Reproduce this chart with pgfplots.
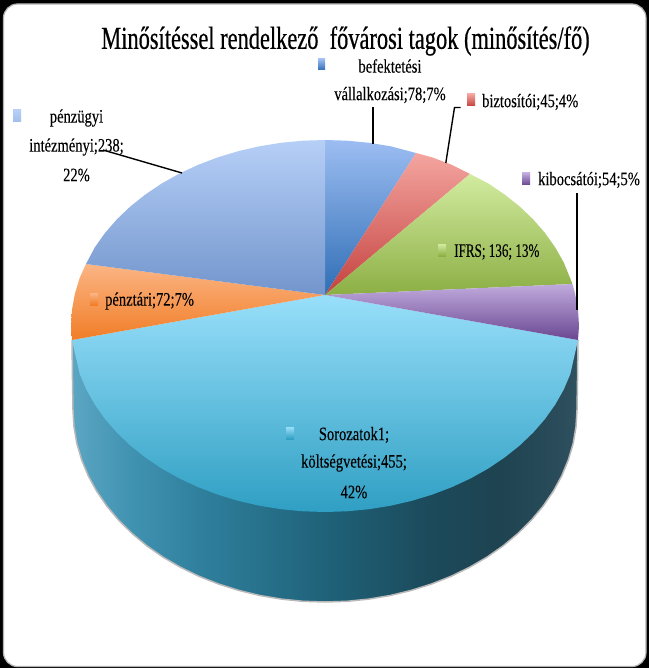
\documentclass[border=0pt]{standalone}
\usepackage{fontspec}
\usepackage{pgfplots}
\pgfplotsset{compat=1.18}
\setmainfont{Liberation Serif}
\newfontfamily\lab[FakeStretch=0.765,FakeBold=0.15]{Liberation Serif}
\newfontfamily\labn[FakeStretch=0.69,FakeBold=0.15]{Liberation Serif}
\newfontfamily\ttl[FakeStretch=0.70,FakeBold=0.5]{Liberation Serif}
\newcommand{\lbl}[1]{{\lab\fontsize{19}{19}\selectfont #1}}
\definecolor{s0}{HTML}{5BA6C3}\definecolor{s1}{HTML}{4193B2}\definecolor{s2}{HTML}{2F809D}
\definecolor{s3}{HTML}{1F6279}\definecolor{s4}{HTML}{1C4A5B}\definecolor{s5}{HTML}{1E4351}\definecolor{s6}{HTML}{2F505E}
\definecolor{tSor}{HTML}{98DFFA}\definecolor{bSor}{HTML}{2F9FC3}
\definecolor{tBef}{HTML}{9CBDF2}\definecolor{bBef}{HTML}{2F6EB5}
\definecolor{tBiz}{HTML}{F4A5A0}\definecolor{bBiz}{HTML}{C4423F}
\definecolor{tIfr}{HTML}{D2EBA0}\definecolor{bIfr}{HTML}{8CAF44}
\definecolor{tKib}{HTML}{C0ABDD}\definecolor{bKib}{HTML}{6A4792}
\definecolor{tPen}{HTML}{FBB584}\definecolor{bPen}{HTML}{F17D27}
\definecolor{tPzu}{HTML}{B6CFF7}\definecolor{bPzu}{HTML}{7295CC}
\pgfdeclarehorizontalshading{sideshade}{100bp}{color(0bp)=(s0);color(25bp)=(s0);color(30.7bp)=(s1);color(37.6bp)=(s2);color(50bp)=(s3);color(60.4bp)=(s4);color(67.3bp)=(s5);color(75bp)=(s6);color(100bp)=(s6)}
\begin{document}
\begin{tikzpicture}
\begin{axis}[scale only axis,width=649pt,height=668pt,xmin=0,xmax=649,ymin=0,ymax=668,y dir=reverse,hide axis,clip=true]
% frame
\fill[black] (axis cs:0,0) rectangle (axis cs:649,668);
\fill[white,draw=gray!60,line width=1.2pt,rounded corners=14pt] (axis cs:3.5,4) rectangle (axis cs:646,666.5);
% side wall
\addplot[shading=sideshade,draw=gray!55,line width=1.5pt] coordinates {(578,340)(577.5,380)(577,410)(576,426.7)(573.2,443.3)(568.4,459.7)(561.8,475.7)(553.4,491.1)(543.2,506)(531.4,520.1)(518,533.4)(503.2,545.8)(487,557.1)(469.5,567.3)(451,576.3)(431.5,584)(411.2,590.4)(390.2,595.5)(368.7,599.1)(347,601.3)(325,602)(303,601.3)(281.3,599.1)(259.8,595.5)(238.8,590.4)(218.5,584)(199,576.3)(180.5,567.3)(163,557.1)(146.8,545.8)(132,533.4)(118.6,520.1)(106.8,506)(96.6,491.1)(88.2,475.7)(81.6,459.7)(76.8,443.3)(74,426.7)(73,410)(72.5,380)(72,340)};
% slices: koltsegvetesi 455
\addplot[top color=tSor,bottom color=bSor,draw=none] coordinates {(325,295)(578,340)(570.3,374.1)(563.7,389.6)(555.2,404.6)(545,419)(533.1,432.7)(519.6,445.6)(504.6,457.5)(488.3,468.5)(470.7,478.4)(452,487.1)(432.3,494.6)(411.9,500.8)(390.7,505.7)(369.1,509.2)(347.1,511.3)(325,512)(302.9,511.3)(280.9,509.2)(259.3,505.7)(238.1,500.8)(217.7,494.6)(198,487.1)(179.3,478.4)(161.7,468.5)(145.4,457.5)(130.4,445.6)(116.9,432.7)(105,419)(94.8,404.6)(86.3,389.6)(79.7,374.1)(72,340)(325,295)};
% befektetesi 78
\addplot[top color=tBef,bottom color=bBef,draw=none] coordinates {(325,295)(325,140)(347.1,140.7)(369.1,142.8)(390.7,146.3)(416,153)(325,295)};
% biztositoi 45
\addplot[top color=tBiz,bottom color=bBiz,draw=none] coordinates {(325,295)(416,153)(432.3,157.4)(452,164.9)(470,174)(325,295)};
% IFRS 136
\addplot[top color=tIfr,bottom color=bIfr,draw=none] coordinates {(325,295)(470,174)(488.3,183.5)(504.6,194.5)(519.6,206.4)(533.1,219.3)(545,233)(555.2,247.4)(563.7,262.4)(572.5,284)(325,295)};
% kibocsatoi 54
\addplot[top color=tKib,bottom color=bKib,draw=none] coordinates {(325,295)(572.5,284)(575.1,293.7)(578,309.8)(579,326)(578,340)(325,295)};
% penztari 72
\addplot[top color=tPen,bottom color=bPen,draw=none] coordinates {(325,295)(72,340)(71,326)(72,309.8)(74.9,293.7)(79.7,277.9)(86,264)(325,295)};
% penzugyi 238
\addplot[top color=tPzu,bottom color=bPzu,draw=none] coordinates {(325,295)(86,264)(94.8,247.4)(105,233)(116.9,219.3)(130.4,206.4)(145.4,194.5)(161.7,183.5)(179.3,173.6)(198,164.9)(217.7,157.4)(238.1,151.2)(259.3,146.3)(280.9,142.8)(302.9,140.7)(325,140)(325,295)};
% leaders
\addplot[black,line width=1.4pt] coordinates {(373,107)(373,144)};
\addplot[black,line width=1.4pt] coordinates {(460.5,107.5)(454.5,107.5)(445.8,163)};
\addplot[black,line width=1.4pt] coordinates {(577,193)(577,310)};
\addplot[black,line width=1.4pt] coordinates {(103,150)(182,173)};
% legend keys
\addplot[top color=tBef,bottom color=bBef,draw=none] coordinates {(318,59)(325,59)(325,70)(318,70)(318,59)};
\addplot[top color=tBiz,bottom color=bBiz,draw=none] coordinates {(467,94)(475,94)(475,106)(467,106)(467,94)};
\addplot[top color=tPzu,bottom color=tPzu!70!bPzu,draw=none] coordinates {(13,110)(21,110)(21,122)(13,122)(13,110)};
\addplot[top color=tKib,bottom color=bKib,draw=none] coordinates {(522,173)(530,173)(530,185)(522,185)(522,173)};
\addplot[top color=tIfr,bottom color=bIfr,draw=none] coordinates {(438,244)(446,244)(446,256)(438,256)(438,244)};
\addplot[top color=tPen,bottom color=bPen,draw=none] coordinates {(90,293)(98,293)(98,305)(90,305)(90,293)};
\addplot[top color=tSor,bottom color=bSor,draw=none] coordinates {(286,427)(294,427)(294,439)(286,439)(286,427)};
% texts
\node at (axis cs:345.5,41) {\ttl\fontsize{32}{32}\selectfont Minősítéssel rendelkező\ \ fővárosi tagok (minősítés/fő)};
\node at (axis cs:390,66) {\lbl{befektetési}};
\node at (axis cs:390,95) {\lbl{vállalkozási;78;7\%}};
\node[anchor=west,inner sep=0pt] at (axis cs:482,102) {\lbl{biztosítói;45;4\%}};
\node at (axis cs:76.5,118) {\lbl{pénzügyi}};
\node at (axis cs:76.5,147) {\lbl{intézményi;238;}};
\node at (axis cs:76.5,175) {\lbl{22\%}};
\node[anchor=west,inner sep=0pt] at (axis cs:538,180) {\lbl{kibocsátói;54;5\%}};
\node[anchor=west,inner sep=0pt] at (axis cs:454,252) {\labn\fontsize{19}{19}\selectfont IFRS; 136; 13\%};
\node[anchor=west,inner sep=0pt] at (axis cs:105,301) {\lbl{pénztári;72;7\%}};
\node at (axis cs:354,435) {\lbl{Sorozatok1;}};
\node at (axis cs:354,463) {\lbl{költségvetési;455;}};
\node at (axis cs:354,492) {\lbl{42\%}};
\end{axis}
\end{tikzpicture}
\end{document}
